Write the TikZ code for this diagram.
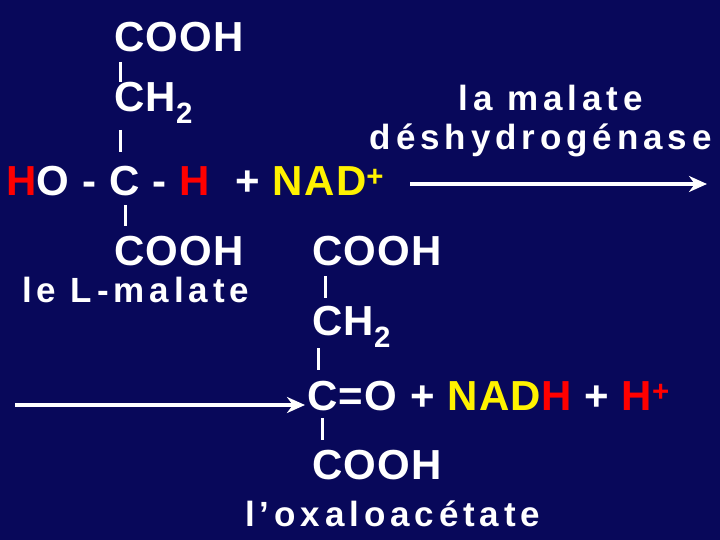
\documentclass[tikz,border=0pt]{standalone}
\usepackage{fontspec}
\usetikzlibrary{arrows.meta}
\setmainfont{Liberation Sans}
\begin{document}
\begin{tikzpicture}[x=1pt,y=-1pt,
  big/.style={text=white,font=\bfseries\fontsize{42}{42}\selectfont\addfontfeature{LetterSpace=3},inner sep=0,anchor=west},
  mid/.style={text=white,font=\bfseries\fontsize{35}{35}\selectfont\addfontfeature{LetterSpace=14},inner sep=0,anchor=west},
  bar/.style={white,line width=3pt},
  arr/.style={white,line width=4pt,-{Stealth[length=18pt,width=16pt]}}]
\fill[fill={rgb,255:red,8;green,8;blue,90}] (0,0) rectangle (720,540);
\useasboundingbox (0,0) rectangle (720,540);
\node[big] (c1) at (114,37) {COOH};
\node[big] (c2) at (114,103) {CH\textsubscript{2}};
\node[big] (c3) at (6,181) {\textcolor{red}{H}O - C - \textcolor{red}{H}\ \ + \textcolor{yellow}{NAD\textsuperscript{+}}};
\node[big] (c4) at (114,251) {COOH};
\node[mid] (lm) at (22,290) {le L-malate};
\node[mid,anchor=east] (e1) at (643,98) {la malate};
\node[mid,anchor=east] (e2) at (712,140) {déshydrogénase};
\coordinate (a1s) at (410,184); \coordinate (a1e) at (707,184);
\draw[arr] (a1s) -- (a1e);
\node[big] (d1) at (312,251) {COOH};
\node[big] (d2) at (312,327) {CH\textsubscript{2}};
\node[big] (d3) at (307,396) {C=O + \textcolor{yellow}{NAD\textcolor{red}{H}} + \textcolor{red}{H\textsuperscript{+}}};
\node[big] (d4) at (312,465) {COOH};
\node[mid] (ox) at (245,514) {l’oxaloacétate};
\coordinate (a2s) at (15,405); \coordinate (a2e) at (305,405);
\draw[arr] (a2s) -- (a2e);
\draw[bar] (120,62) -- (120,82);
\draw[bar] (120,130) -- (120,152);
\draw[bar] (125,205) -- (125,226);
\draw[bar] (325,276) -- (325,298);
\draw[bar] (318,348) -- (318,370);
\draw[bar] (322,418) -- (322,440);
\end{tikzpicture}
\end{document}
